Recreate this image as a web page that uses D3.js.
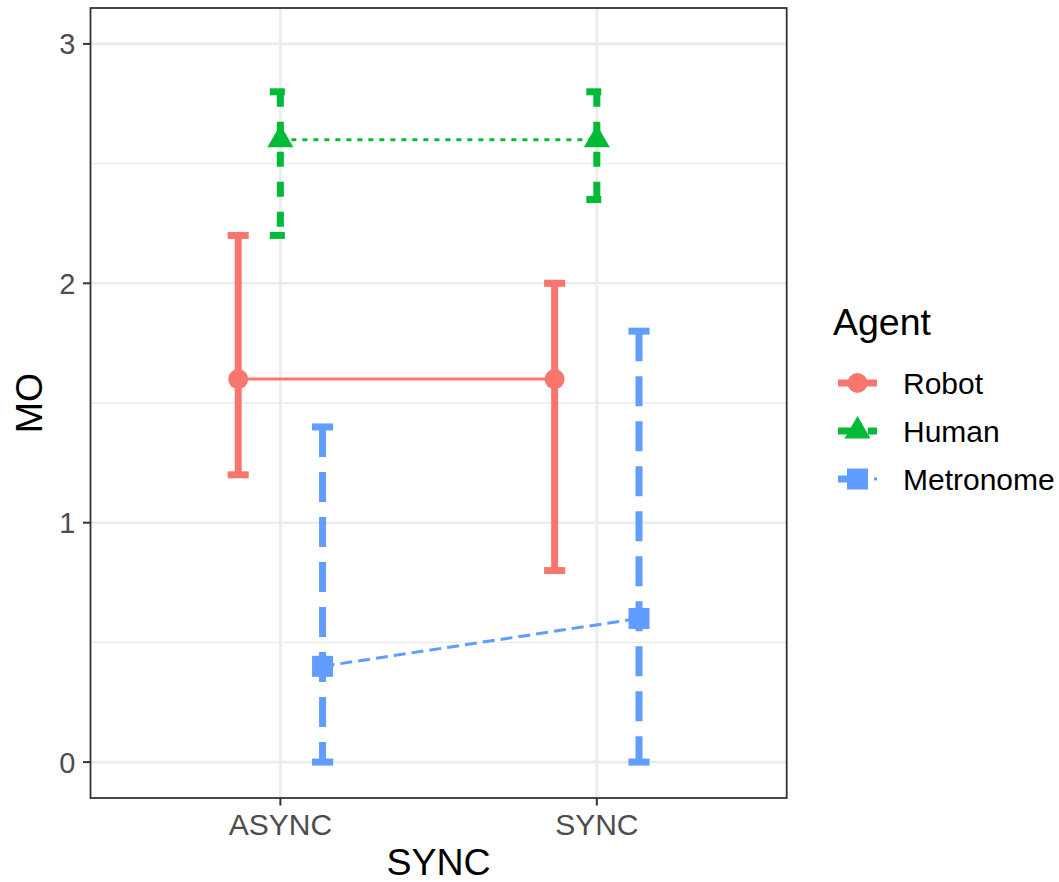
<!DOCTYPE html>
<html>
<head>
<meta charset="utf-8">
<script src="https://cdn.jsdelivr.net/npm/d3@7"></script>
<style>
  body { margin: 0; background: #fff; }
  text { font-family: "Liberation Sans", Arial, sans-serif; }
</style>
</head>
<body>
<div id="chart"></div>
<script>
// data
const categories = ['ASYNC', 'SYNC'];
const agents = ['Robot', 'Human', 'Metronome'];
const robotMean = [1.6, 1.6];
const robotLow = [1.2, 0.8];
const robotHigh = [2.2, 2.0];
const humanMean = [2.6, 2.6];
const humanLow = [2.2, 2.35];
const humanHigh = [2.8, 2.8];
const metroMean = [0.4, 0.6];
const metroLow = [0, 0];
const metroHigh = [1.4, 1.8];
const yTicks = [0, 1, 2, 3];
const yMinor = [0.5, 1.5, 2.5];

const width = 1059, height = 882;
const panel = { left: 90.5, right: 786.7, top: 8, bottom: 798 };

const colors = { Robot: '#F8766D', Human: '#00BA38', Metronome: '#619CFF' };
const barDash = { Robot: null, Human: '15,15', Metronome: '30,15' };
const lineDash = { Robot: null, Human: '5,6', Metronome: '12,6' };
const dodge = { Robot: -1, Human: 0, Metronome: 1 };

const series = [
  { agent: 'Robot', mean: robotMean, low: robotLow, high: robotHigh },
  { agent: 'Human', mean: humanMean, low: humanLow, high: humanHigh },
  { agent: 'Metronome', mean: metroMean, low: metroLow, high: metroHigh },
];

const svg = d3.select('#chart').append('svg')
  .attr('width', width)
  .attr('height', height);

svg.append('rect').attr('width', width).attr('height', height).attr('fill', '#fff');

const x = d3.scalePoint()
  .domain(categories)
  .range([panel.left, panel.right])
  .padding(0.6);

const y = d3.scaleLinear()
  .domain([-0.15, 3.15])
  .range([panel.bottom, panel.top]);

const step = x.step();
const dodgeW = 0.1333 * step;
const capW = 0.0667 * step;
const xPos = (agent, i) => x(categories[i]) + dodge[agent] * dodgeW;

// grid
const grid = svg.append('g');
grid.selectAll('.minor').data(yMinor).join('line')
  .attr('x1', panel.left).attr('x2', panel.right)
  .attr('y1', d => y(d)).attr('y2', d => y(d))
  .attr('stroke', '#EBEBEB').attr('stroke-width', 1.3);
grid.selectAll('.major').data(yTicks).join('line')
  .attr('x1', panel.left).attr('x2', panel.right)
  .attr('y1', d => y(d)).attr('y2', d => y(d))
  .attr('stroke', '#EBEBEB').attr('stroke-width', 2.6);
grid.selectAll('.vmajor').data(categories).join('line')
  .attr('x1', d => x(d)).attr('x2', d => x(d))
  .attr('y1', panel.top).attr('y2', panel.bottom)
  .attr('stroke', '#EBEBEB').attr('stroke-width', 2.6);

const plot = svg.append('g');

// connecting lines
const lineGen = d3.line();
series.forEach(s => {
  const pts = categories.map((c, i) => [xPos(s.agent, i), y(s.mean[i])]);
  plot.append('path')
    .attr('d', lineGen(pts))
    .attr('fill', 'none')
    .attr('stroke', colors[s.agent])
    .attr('stroke-width', 3)
    .attr('stroke-dasharray', lineDash[s.agent]);
});

// error bars: top cap, stem, bottom cap drawn separately so dashes restart
series.forEach(s => {
  categories.forEach((c, i) => {
    const cx = xPos(s.agent, i);
    const segs = [
      [[cx - capW / 2, y(s.high[i])], [cx + capW / 2, y(s.high[i])]],
      [[cx, y(s.high[i])], [cx, y(s.low[i])]],
      [[cx - capW / 2, y(s.low[i])], [cx + capW / 2, y(s.low[i])]],
    ];
    segs.forEach(seg => {
      plot.append('path')
        .attr('d', lineGen(seg))
        .attr('fill', 'none')
        .attr('stroke', colors[s.agent])
        .attr('stroke-width', 7)
        .attr('stroke-dasharray', barDash[s.agent]);
    });
  });
});

// points
const symbols = {
  Robot: d3.symbol(d3.symbolCircle, Math.PI * 100),
  Human: d3.symbol(d3.symbolTriangle, 293),
  Metronome: d3.symbol(d3.symbolSquare, 441),
};
series.forEach(s => {
  categories.forEach((c, i) => {
    plot.append('path')
      .attr('d', symbols[s.agent]())
      .attr('transform', `translate(${xPos(s.agent, i)},${y(s.mean[i])})`)
      .attr('fill', colors[s.agent]);
  });
});

// panel border
svg.append('rect')
  .attr('x', panel.left).attr('y', panel.top)
  .attr('width', panel.right - panel.left)
  .attr('height', panel.bottom - panel.top)
  .attr('fill', 'none')
  .attr('stroke', '#333333')
  .attr('stroke-width', 1.8);

// y axis
const yAxis = svg.append('g');
yAxis.selectAll('line').data(yTicks).join('line')
  .attr('x1', panel.left - 7.5).attr('x2', panel.left)
  .attr('y1', d => y(d)).attr('y2', d => y(d))
  .attr('stroke', '#333333').attr('stroke-width', 2);
yAxis.selectAll('text').data(yTicks).join('text')
  .attr('x', panel.left - 15)
  .attr('y', d => y(d))
  .attr('dy', '0.36em')
  .attr('text-anchor', 'end')
  .attr('fill', '#4D4D4D')
  .style('font-size', '29px')
  .text(d => d);

// x axis
const xAxis = svg.append('g');
xAxis.selectAll('line').data(categories).join('line')
  .attr('x1', d => x(d)).attr('x2', d => x(d))
  .attr('y1', panel.bottom).attr('y2', panel.bottom + 7.5)
  .attr('stroke', '#333333').attr('stroke-width', 2);
xAxis.selectAll('text').data(categories).join('text')
  .attr('x', d => x(d))
  .attr('y', 835)
  .attr('text-anchor', 'middle')
  .attr('fill', '#4D4D4D')
  .style('font-size', '30px')
  .text(d => d);

// axis titles
svg.append('text')
  .attr('x', (panel.left + panel.right) / 2)
  .attr('y', 875)
  .attr('text-anchor', 'middle')
  .attr('fill', '#000')
  .style('font-size', '37.5px')
  .text('SYNC');

svg.append('text')
  .attr('transform', `translate(42,${(panel.top + panel.bottom) / 2}) rotate(-90)`)
  .attr('text-anchor', 'middle')
  .attr('fill', '#000')
  .style('font-size', '37.5px')
  .text('MO');

// legend
const legend = svg.append('g');
legend.append('text')
  .attr('x', 833).attr('y', 335)
  .attr('fill', '#000')
  .style('font-size', '37.5px')
  .text('Agent');

const keyX0 = 838, keyX1 = 877, keyMid = (keyX0 + keyX1) / 2;
const keyY = d3.scalePoint().domain(agents).range([383, 479]);

agents.forEach(a => {
  const ky = keyY(a);
  legend.append('path')
    .attr('d', lineGen([[keyX0, ky], [keyX1, ky]]))
    .attr('stroke', colors[a]).attr('stroke-width', 7)
    .attr('stroke-dasharray', barDash[a]);
  legend.append('path')
    .attr('d', lineGen([[keyX0, ky], [keyX1, ky]]))
    .attr('stroke', colors[a]).attr('stroke-width', 3)
    .attr('stroke-dasharray', lineDash[a]);
  legend.append('path')
    .attr('d', symbols[a]())
    .attr('transform', `translate(${keyMid},${ky})`)
    .attr('fill', colors[a]);
  legend.append('text')
    .attr('x', 903).attr('y', ky)
    .attr('dy', '0.36em')
    .attr('fill', '#000')
    .style('font-size', '30px')
    .text(a);
});
</script>
</body>
</html>
